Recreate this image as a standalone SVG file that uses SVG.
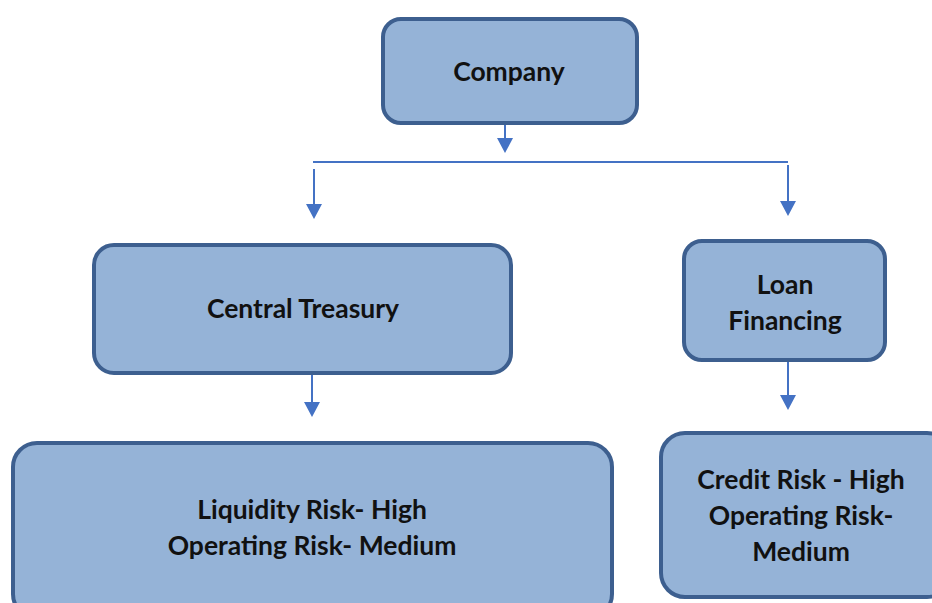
<svg xmlns="http://www.w3.org/2000/svg" width="932" height="603" viewBox="0 0 932 603">
<style>
.box{fill:#95b3d7;stroke:#3d5f8f;stroke-width:4}
.t{font-family:Lato,"Open Sans","Liberation Sans",sans-serif;font-weight:bold;font-size:26.5px;fill:#111;text-anchor:middle;dominant-baseline:central}
.c{stroke:#4472c4;stroke-width:2;fill:none}
</style>
<defs>
<marker id="ah" markerWidth="8" markerHeight="8" refX="6" refY="4" orient="auto" markerUnits="strokeWidth" viewBox="0 0 8 8">
<path d="M0,0 L7.5,4 L0,8 Z" fill="#4472c4"/>
</marker>
</defs>
<rect width="932" height="603" fill="#fff"/>
<g id="connectors">
<line class="c" x1="505" y1="102" x2="505" y2="150" marker-end="url(#ah)"/>
<line class="c" x1="313" y1="162" x2="788" y2="162"/>
<line class="c" x1="314" y1="169" x2="314" y2="216" marker-end="url(#ah)"/>
<line class="c" x1="788" y1="165" x2="788" y2="213" marker-end="url(#ah)"/>
<line class="c" x1="312" y1="367" x2="312" y2="414" marker-end="url(#ah)"/>
<line class="c" x1="788" y1="362" x2="788" y2="407" marker-end="url(#ah)"/>
</g>
<g id="company">
<rect class="box" x="383" y="19" width="254" height="104" rx="18"/>
<text class="t" x="509" y="71">Company</text>
</g>
<g id="central-treasury">
<rect class="box" x="94" y="245" width="417" height="128" rx="20"/>
<text class="t" x="303" y="308">Central Treasury</text>
</g>
<g id="loan-financing">
<rect class="box" x="684" y="241" width="201" height="119" rx="18"/>
<text class="t" x="785" y="284">Loan</text>
<text class="t" x="785" y="320">Financing</text>
</g>
<g id="liquidity">
<rect class="box" x="13" y="443" width="599" height="175" rx="24"/>
<text class="t" x="312" y="509">Liquidity Risk- High</text>
<text class="t" x="312" y="545">Operating Risk- Medium</text>
</g>
<g id="credit">
<rect class="box" x="661" y="433" width="290" height="164" rx="24"/>
<text class="t" x="801" y="479">Credit Risk - High</text>
<text class="t" x="801" y="515">Operating Risk-</text>
<text class="t" x="801" y="551">Medium</text>
</g>
</svg>
